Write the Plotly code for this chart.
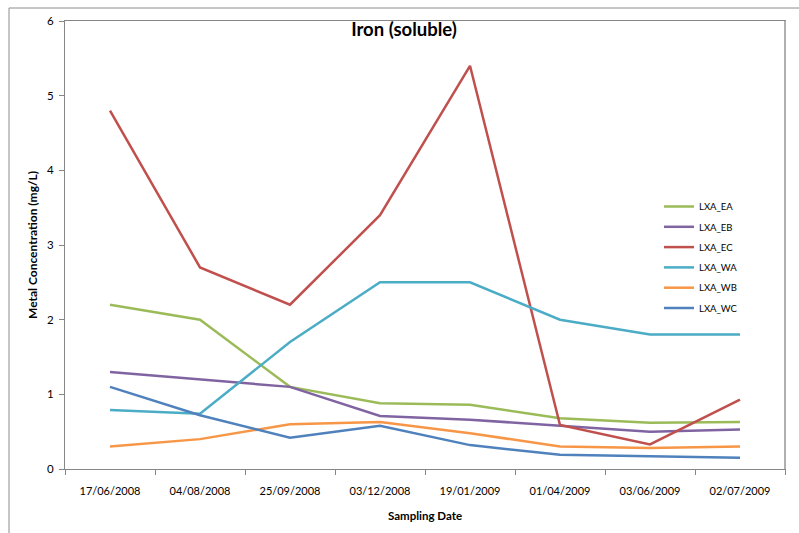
import plotly.graph_objects as go

# Sampling dates (categorical x axis)
dates = ["17/06/2008", "04/08/2008", "25/09/2008", "03/12/2008",
         "19/01/2009", "01/04/2009", "03/06/2009", "02/07/2009"]

# Soluble iron concentration (mg/L) per sampling site
lxa_ea = [2.20, 2.00, 1.10, 0.88, 0.86, 0.68, 0.62, 0.63]
lxa_eb = [1.30, 1.20, 1.10, 0.71, 0.66, 0.58, 0.50, 0.53]
lxa_ec = [4.80, 2.70, 2.20, 3.40, 5.40, 0.59, 0.33, 0.93]
lxa_wa = [0.79, 0.74, 1.70, 2.50, 2.50, 2.00, 1.80, 1.80]
lxa_wb = [0.30, 0.40, 0.60, 0.63, 0.48, 0.30, 0.28, 0.30]
lxa_wc = [1.10, 0.72, 0.42, 0.58, 0.32, 0.19, 0.17, 0.15]

series = [
    ("LXA_EA", lxa_ea, "#9BBB59"),
    ("LXA_EB", lxa_eb, "#8064A2"),
    ("LXA_EC", lxa_ec, "#C0504D"),
    ("LXA_WA", lxa_wa, "#4BACC6"),
    ("LXA_WB", lxa_wb, "#F79646"),
    ("LXA_WC", lxa_wc, "#4F81BD"),
]

FONT = "Lato"
W, H = 799, 533
L, R, T, B = 65, 14, 21, 64
pw, ph = W - L - R, H - T - B


def px_x(p):
    return (p - L) / pw


def px_y(p):
    return (H - B - p) / ph


fig = go.Figure()
for name, vals, col in series:
    fig.add_trace(go.Scatter(
        x=dates, y=vals, name=name, mode="lines",
        line=dict(color=col, width=2.5),
        legendgroup=name,
    ))

axis_line = "#868686"
fig.update_layout(
    width=W, height=H,
    margin=dict(l=L, r=R, t=T, b=B),
    paper_bgcolor="white", plot_bgcolor="white",
    font=dict(family=FONT, color="#000000", size=12),
    title=dict(text="<b>Iron (soluble)</b>", x=404 / W, xanchor="center",
               y=1 - 30 / H, yanchor="middle", yref="container",
               font=dict(family=FONT, size=18.5, color="#000000")),
    xaxis=dict(type="category", range=[-0.5, 7.5], showgrid=False,
               showline=True, linecolor=axis_line, linewidth=1, mirror=True,
               ticks="outside", tickson="boundaries", ticklen=5,
               tickcolor=axis_line, tickfont=dict(size=11),
               ticklabelstandoff=12),
    yaxis=dict(range=[0, 6], dtick=1, showgrid=False, zeroline=False,
               showline=True, linecolor=axis_line, linewidth=1, mirror=True,
               ticks="outside", ticklen=5, tickcolor=axis_line,
               tickfont=dict(size=11.5), ticklabelstandoff=3),
    legend=dict(x=px_x(659), y=px_y(192), xanchor="left", yanchor="top",
                font=dict(size=9.5), bgcolor="rgba(0,0,0,0)",
                traceorder="grouped", tracegroupgap=1.3),
    showlegend=True,
)

# axis titles
fig.add_annotation(text="<b>Metal Concentration (mg/L)</b>", xref="paper",
                   yref="paper", x=px_x(32), y=0.5, textangle=-90,
                   showarrow=False, font=dict(size=12),
                   xanchor="center", yanchor="middle")
fig.add_annotation(text="<b>Sampling Date</b>", xref="paper", yref="paper",
                   x=px_x(425), y=px_y(515), showarrow=False,
                   font=dict(size=11.5), xanchor="center", yanchor="middle")

# outer chart frame (top and left edges) and heavier right plot edge
fig.add_shape(type="line", xref="paper", yref="paper",
              x0=px_x(9), x1=px_x(W + 5), y0=px_y(8), y1=px_y(8),
              line=dict(color="#8c8c8c", width=1))
fig.add_shape(type="line", xref="paper", yref="paper",
              x0=px_x(9), x1=px_x(9), y0=px_y(8), y1=px_y(H + 5),
              line=dict(color="#8c8c8c", width=1))
fig.add_shape(type="line", xref="paper", yref="paper",
              x0=1.0, x1=1.0, y0=0, y1=1,
              line=dict(color="#b0b0b0", width=2))

fig.write_html("out.html")
